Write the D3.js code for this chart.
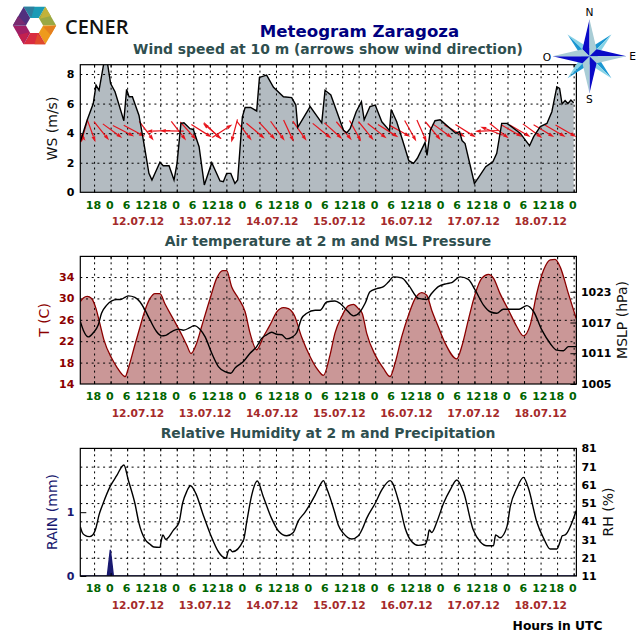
<!DOCTYPE html>
<html><head><meta charset="utf-8">
<script src="https://d3js.org/d3.v7.min.js"></script>
<style>html,body{margin:0;padding:0;background:#fff}svg{display:block}text{font-family:"DejaVu Sans",sans-serif}</style>
</head><body><svg id="c" width="640" height="640"></svg>
<script>
const windHours=[13,15.5,17.7,18.7,19.8,21.6,22.8,24,25.6,28.8,29.8,30.7,31.9,34.3,36.1,37.9,39,41.9,43.1,45.2,47,48.1,49.5,50.6,52.8,54,56.1,58,60.7,63.7,64.9,66.1,67.6,69.1,70.1,71.8,72.8,74.8,77,78,80.6,83.1,86.7,89.7,91.2,91.9,96.4,100.6,101.8,103.9,108.5,109.7,110.9,113.1,115,116,118.1,120,122.4,125.2,125.8,127.8,129.9,132.2,133.9,135.3,138.1,138.8,140,141.7,143.6,149.2,150.6,151.5,152.6,156,157.7,160.1,162.7,164.1,165.9,167.8,172.6,176,177.5,179.9,182.3,184.1,185.9,186.9,187.8,188.9,189.9,191,192];
const windSpeed=[3.42,4.89,6,7.25,6.9,8.8,8.8,7.36,6.8,4.84,6.96,6.46,6.46,5.2,3.3,1.28,.83,2.03,1.8,1.8,.83,1.96,4.66,4.7,4.3,4.25,3.08,.5,2,.77,.72,1.28,1.28,.6,.83,5.1,5.74,5.74,5.5,7.77,7.93,7.1,6.46,6.4,5.9,4.4,5.8,4.7,6.9,6.58,4.2,4.03,4.3,5.45,6.13,4.9,5.8,5.9,4.77,4.17,5.6,4.77,3.54,2.14,1.96,2.3,3.38,2.5,4.2,4.84,4.9,4,4.1,3.5,3.3,.6,1.06,1.73,2.07,2.63,4.66,4.66,4,3.15,3.76,4.44,4.66,5.45,7.14,7.03,5.97,6.2,6,6.24,6.05];
const arrowHours=[12.3,14.5,17,20.7,24.7,28.7,32.6,37,41.3,46.2,48.7,52.2,57,60.8,61,64.5,68.9,72.5,76.6,80.8,84.6,88.6,92.6,100.7,104.8,108.7,112.8,116.7,120.7,124.7,128.9,132.8,136.9,141,144.4,148.9,152.8,160.5,162.2,165,169.6,172.6,177.1,181.2,185.3,189.2];
const arrowBearing=[144,196,160,141,126,117,118,143,268,271,142,138,122,310,134,57,195,142,130,137,144,155,145,129,132,140,151,141,128,122,119,151,156,140,126,120,122,268,291,128,120,120,126,121,120,120];
const tempHours=[13,14.1,15.5,17.1,18.7,20.1,21.6,24.4,26.2,28.8,29.3,30.4,32.8,34.7,36.1,38.3,40.1,41.9,43.7,46.8,49.8,51.6,53.2,55.2,57,60.1,62.5,64.7,66.1,67.9,70.4,72.8,74.6,77,79.4,81.8,84.3,86.7,88.5,90.6,93.3,96.4,98.8,100,101.2,103.6,105.4,107.8,110.2,112.1,113.9,115.3,116.9,120,123,125.4,127.2,129.6,132.1,134.5,136.9,138.7,140.5,142.9,145.4,149.6,151.4,153.8,156.3,158.7,161.1,162.9,165.3,168.4,171.4,173.8,176.2,178.6,181.1,183.5,185.3,187.1,190.1,192.9];
const tempValues=[29.4,30.1,30.4,30,28.1,25.3,22.2,18.8,17.2,15.5,15.4,16.9,21.3,24.7,27.2,30,30.9,30.9,29,26.1,23.2,21.3,19.7,21.6,24.7,30,33.8,35.2,35.2,32.2,30,27.5,23.5,20.4,22.8,25,27.5,28.3,28.1,26.9,22.8,19.1,16.9,16.1,15.6,19.4,23.5,26.6,28.6,28.9,28.1,27.2,23.5,19.4,16.9,15.4,17.9,22.8,26.9,30,31.1,30.6,27.8,24.7,21.6,18.7,21,26,30.9,33.8,34.5,33.8,30.9,27.8,24.7,23,25,30.9,35.3,37.2,37.3,35.9,30.9,26.3];
const mslpHours=[13,14.1,15.9,17.7,19.5,20.7,22.6,24.4,26.2,27.6,29.2,30.4,32.8,34.7,36.5,38.3,40.7,42.5,44,45.5,48.6,50.4,52.8,54.3,56.4,58.3,60.7,63.1,65.5,67.6,69.1,72.2,74.6,77,78.8,80.6,82.4,84.3,86.1,87.9,89.7,91.5,93.3,95.2,98.2,100,102.4,105.4,107.3,109.7,112.1,114.5,116.3,118.1,120.6,123,124.8,126.6,129.6,132.1,135.7,138.7,140.5,142.9,146,147.8,150.8,153.8,156.3,159.3,161.7,164.1,166.5,168.9,172.2,175,177.5,180.5,183.5,185.9,188.3,190.1,192.9];
const mslpValues=[1017.2,1015.5,1014.2,1015,1016.5,1018.8,1020.4,1021.2,1021.5,1021.5,1021.9,1022.2,1021.9,1021,1019.4,1017.5,1015.2,1014.4,1014.5,1015,1015.7,1015.5,1016,1016.4,1015.7,1014.2,1011,1008.4,1007.4,1007.1,1008.1,1009.4,1011,1012.3,1013.9,1014.6,1015.1,1014.7,1014.6,1013.8,1014.1,1015,1017.8,1018.8,1019.4,1019.4,1021,1021.2,1020.7,1019.4,1018.3,1019.1,1020.7,1023,1023.6,1024,1024.9,1025.9,1025.7,1024.3,1021.7,1021.5,1022.7,1024,1024.6,1024.8,1025.9,1025.4,1023.3,1020.4,1019.1,1018.8,1019.6,1019.6,1019.6,1020.3,1019.1,1015.5,1012.9,1011.6,1011.5,1012.3,1012.3];
const rhHours=[13,13.7,14.7,16.3,17.5,18.7,19.8,21.3,23.8,26.2,28.8,30.4,32.8,34.3,36.5,38.3,39.7,41.9,42.4,43,44,46.8,48.8,50.1,51.6,53,54.9,57.6,60.3,63.1,65.9,66.6,67.3,68.2,72.2,73.4,75.2,77.2,79.4,82.4,84.9,87.9,90.3,92.1,94.5,98.2,100,101.2,102.4,105.4,106.6,108.5,111.5,113.9,115.7,116.9,120,122.4,125.4,128.7,130.9,133.3,135.7,138.1,139,139.6,140.5,142.4,144.8,147.2,149.6,152,155.6,158.1,160.5,162.9,163.7,165.3,167.8,169,171.4,173.8,175.6,178.6,181.1,183.5,185.9,187.1,187.9,188.9,192.9];
const rhValues=[38.1,34.9,33.3,32.6,33.5,37.5,44.5,50.9,60,66,71.9,63.7,50.9,39.9,31.1,28.4,26.9,26.7,30.7,33.5,31.1,36.2,40.4,50.9,57.3,60.5,56.3,44.5,33.5,24.3,20.7,24.3,25.6,24.3,30.7,40.8,55.4,63.1,54.5,42.6,35.7,33.1,34.9,41.2,45.9,55.4,60.9,63.3,59.1,45.4,39,34.4,31.3,33.1,38.1,42.6,50.9,58.2,63.3,50.9,37.1,29.8,27.8,28.4,31.7,36.2,34.9,40.8,50.9,58.2,63.7,57.3,36.2,29.8,27.6,27.6,33.5,32,38.1,49,59.1,65.1,59.1,40.8,31.7,25.8,25.8,29.8,33.1,33.5,46.8];
const rainHours=[13,22.8,23.9,25,193];
const rainValues=[0,0,.41,0,0];
const hourTicks=d3.range(18,193,6);
const dateLabels=["12.07.12","13.07.12","14.07.12","15.07.12","16.07.12","17.07.12","18.07.12"];
const wsTicks=[0,2,4,6,8];
const tempTicks=[14,18,22,26,30,34];
const mslpTicks=[1005,1011,1017,1023];
const rhTicks=[11,21,31,41,51,61,71,81];
const rainTicks=[0,1];
const logoColors=["#1a9bb5","#9aa843","#ee9a1c","#d92c3f","#a01f66","#51307e"];
const logoHalf=["#2f7f9e","#c2b23a","#e57f1e","#e04a2c","#c2204f","#7a2a70"];

const svg=d3.select("#c");
const L=80.3,R=576.4,W=R-L,H=127.6;
const TF=11;
const x=d3.scaleLinear().domain([13,193]).range([0,W]);
const dateX=d3.scalePoint().domain(dateLabels).range([138,540.7]);
const green="#006400",brown="#A52A2A",dred="#8B0000",navy="#191970",slate="#2F4F4F";
const clean=s=>{s.select(".domain").remove();};
const pts=(h,v)=>h.map((d,i)=>[d,v[i]]);
const intFmt=d3.format("d");

function panel(id,top,title,titleY){
  const g=svg.append("g").attr("transform",`translate(${L},${top})`);
  const clipId="clip"+id;
  g.append("clipPath").attr("id",clipId).append("rect").attr("width",W).attr("height",H);
  const grid=g.append("g");
  const body=g.append("g").attr("clip-path",`url(#${clipId})`);
  svg.append("text").attr("x",328).attr("y",titleY).attr("text-anchor","middle").attr("font-size",13.9).attr("font-weight","bold").attr("fill",slate).text(title);
  const gx=grid.append("g").attr("transform",`translate(0,${H})`).call(d3.axisBottom(x).tickValues(hourTicks).tickSize(-H).tickFormat(""));
  clean(gx);styleGrid(gx);
  const lx=g.append("g").attr("transform",`translate(-1.2,${H})`).call(d3.axisBottom(x).tickValues(hourTicks).tickSize(0).tickPadding(6.5).tickFormat(d=>d%24));
  clean(lx);lx.selectAll("text").attr("font-size",TF).attr("font-weight","bold").attr("fill",green).attr("dy","0.9em").style("font-family",'"DejaVu Sans"');
  dateLabels.forEach(d=>svg.append("text").attr("x",dateX(d)).attr("y",top+H+33).attr("text-anchor","middle").attr("font-size",10.67).attr("font-weight","bold").attr("fill",brown).text(d));
  return {g,grid,body,frame(){g.append("rect").attr("width",W).attr("height",H).attr("fill","none").attr("stroke","#000").attr("stroke-width",1.2);
    g.append("g").call(d3.axisTop(x).tickValues(hourTicks).tickSize(-3).tickFormat("")).call(clean).selectAll("line").attr("stroke","#000");
    g.append("g").attr("transform",`translate(0,${H})`).call(d3.axisBottom(x).tickValues(hourTicks).tickSize(-3).tickFormat("")).call(clean).selectAll("line").attr("stroke","#000");}};
}
function styleGrid(s){s.selectAll("line").attr("stroke","#000").attr("stroke-width",1).attr("stroke-dasharray","2,3.7");}
function tickText(s,col){s.selectAll("text").attr("font-size",TF).attr("font-weight","bold").attr("fill",col).style("font-family",'"DejaVu Sans"');}
function yLabel(txt,px,py,col){svg.append("text").attr("transform",`translate(${px},${py}) rotate(-90)`).attr("text-anchor","middle").attr("font-size",14).attr("fill",col).text(txt);}

// wind panel
const p1=panel("a",64.7,"Wind speed at 10 m (arrows show wind direction)",54);
const yW=d3.scaleLinear().domain([0,8.63]).range([H,0]);
const gw=p1.grid.append("g").call(d3.axisLeft(yW).tickValues(wsTicks.slice(1)).tickSize(-W).tickFormat(""));clean(gw);styleGrid(gw);
const wp=pts(windHours,windSpeed);
p1.body.append("path").attr("d",d3.area().x(d=>x(d[0])).y0(H).y1(d=>yW(d[1]))(wp)).attr("fill","#b3bbc1");
p1.g.node().appendChild(p1.grid.node());
const arrowLayer=p1.g.append("g").attr("clip-path","url(#clipa)");
const lineLayer=p1.g.append("g").attr("clip-path","url(#clipa)");
lineLayer.append("path").attr("d",d3.line().x(d=>x(d[0])).y(d=>yW(d[1]))(wp)).attr("fill","none").attr("stroke","#000").attr("stroke-width",1.4);
const arrowLen=24;
arrowHours.forEach((h,i)=>{
  const a=arrowBearing[i]*Math.PI/180,ux=Math.sin(a),uy=-Math.cos(a);
  const cx=x(h),cy=yW(4.15);
  const tx=cx-ux*arrowLen/2,ty=cy-uy*arrowLen/2,hx=cx+ux*arrowLen/2,hy=cy+uy*arrowLen/2;
  const bx=hx-ux*6,by=hy-uy*6;
  arrowLayer.append("line").attr("x1",tx).attr("y1",ty).attr("x2",bx).attr("y2",by).attr("stroke","#e8141c").attr("stroke-width",1.2);
  arrowLayer.append("path").attr("d",d3.line()([[hx,hy],[bx-uy*1.9,by+ux*1.9],[bx+uy*1.9,by-ux*1.9]])+"Z").attr("fill","#e8141c");
});
const aw=p1.g.append("g").call(d3.axisLeft(yW).tickValues(wsTicks).tickSize(0).tickPadding(6).tickFormat(intFmt));clean(aw);tickText(aw,"#000");
p1.frame();
yLabel("WS (m/s)",57,128.5,"#111");

// temperature panel
const p2=panel("b",256.4,"Air temperature at 2 m and MSL Pressure",245.5);
const yT=d3.scaleLinear().domain([14,37.86]).range([H,0]);
const yP=d3.scaleLinear().domain([1005,1029.9]).range([H,0]);
const gt=p2.grid.append("g").call(d3.axisLeft(yT).tickValues(tempTicks.slice(1)).tickSize(-W).tickFormat(""));clean(gt);styleGrid(gt);
const tp=pts(tempHours,tempValues);
p2.body.append("path").attr("d",d3.area().curve(d3.curveMonotoneX).x(d=>x(d[0])).y0(H).y1(d=>yT(d[1]))(tp)).attr("fill","#ca9797");
p2.g.node().appendChild(p2.grid.node());
const l2=p2.g.append("g").attr("clip-path","url(#clipb)");
l2.append("path").attr("d",d3.line().curve(d3.curveMonotoneX).x(d=>x(d[0])).y(d=>yT(d[1]))(tp)).attr("fill","none").attr("stroke",dred).attr("stroke-width",1.3);
l2.append("path").attr("d",d3.line().curve(d3.curveMonotoneX).x(d=>x(d[0])).y(d=>yP(d[1]))(pts(mslpHours,mslpValues))).attr("fill","none").attr("stroke","#000").attr("stroke-width",1.4);
const at=p2.g.append("g").call(d3.axisLeft(yT).tickValues(tempTicks).tickSize(0).tickPadding(6).tickFormat(intFmt));clean(at);tickText(at,dred);
const ap=p2.g.append("g").attr("transform",`translate(${W},0)`).call(d3.axisRight(yP).tickValues(mslpTicks).tickSize(-6).tickPadding(4.5).tickFormat(intFmt));clean(ap);tickText(ap,"#000");ap.selectAll("line").attr("stroke","#000");
ap.selectAll("text").attr("x",4.5);
p2.frame();
yLabel("T (C)",49,320,dred);
yLabel("MSLP (hPa)",627,320,"#111");

// humidity panel
const p3=panel("c",448.4,"Relative Humidity at 2 m and Precipitation",437.5);
const yR=d3.scaleLinear().domain([11,81]).range([H,0]);
const yM=d3.scaleLinear().domain([0,2]).range([H,0]);
const gr=p3.grid.append("g").call(d3.axisLeft(yR).tickValues(rhTicks.slice(1,-1)).tickSize(-W).tickFormat(""));clean(gr);styleGrid(gr);
const rp=pts(rainHours,rainValues);
p3.body.append("path").attr("d",d3.area().x(d=>x(d[0])).y0(H).y1(d=>yM(d[1]))(rp)).attr("fill",navy).attr("stroke",navy).attr("stroke-width",1.4);
p3.body.append("path").attr("d",d3.line().curve(d3.curveMonotoneX).x(d=>x(d[0])).y(d=>yR(d[1]))(pts(rhHours,rhValues))).attr("fill","none").attr("stroke","#000").attr("stroke-width",1.4);
const am=p3.g.append("g").call(d3.axisLeft(yM).tickValues(rainTicks).tickSize(-6).tickPadding(6).tickFormat(intFmt));clean(am);tickText(am,navy);am.selectAll("line").attr("stroke","#000");
am.selectAll("text").attr("x",-6);
const ar=p3.g.append("g").attr("transform",`translate(${W},0)`).call(d3.axisRight(yR).tickValues(rhTicks).tickSize(0).tickPadding(5).tickFormat(intFmt));clean(ar);tickText(ar,"#000");
p3.frame();
yLabel("RAIN (mm)",57,512,navy);
yLabel("RH (%)",613,512,"#111");

// titles
svg.append("text").attr("x",359.5).attr("y",36.5).attr("text-anchor","middle").attr("font-size",16.6).attr("font-weight","bold").attr("fill","#000080").text("Meteogram Zaragoza");
svg.append("text").attr("x",557.5).attr("y",630).attr("text-anchor","middle").attr("font-size",12.3).attr("font-weight","bold").attr("fill","#000").text("Hours in UTC");

// logo
const lg=svg.append("g").attr("transform","translate(34.5,25.5)");
const hexA=d3.range(6).map(i=>(-120+i*60)*Math.PI/180);
logoColors.forEach((c,i)=>{
  const a0=hexA[i],a1=a0+Math.PI/3,am2=(a0+a1)/2,Ro=21.7,Ri=8.6;
  const Q=(a,r)=>[Math.cos(a)*r,Math.sin(a)*r];
  lg.append("path").attr("d",d3.line()([Q(a0,Ro),Q(a1,Ro),Q(a1,Ri),Q(a0,Ri)])+"Z").attr("fill",c);
  lg.append("path").attr("d",d3.line()([Q(a0,Ro),Q(am2,Ro*.866),Q(a0+.15,Ri)])+"Z").attr("fill",logoHalf[i]);
});
svg.append("text").attr("x",65).attr("y",33.5).attr("font-size",20).attr("font-weight",600).style("font-family",'"Open Sans"').attr("fill","#111").text("CENER");

// compass rose
const cp=svg.append("g").attr("transform","translate(589.5,56.3)");
const P=(deg,r)=>{const a=deg*Math.PI/180;return [Math.sin(a)*r,-Math.cos(a)*r];};
[45,135,225,315].forEach(d=>{
  cp.append("path").attr("d",d3.line()([[0,0],P(d,31),P(d-45,8)])+"Z").attr("fill","#1b97d2");
  cp.append("path").attr("d",d3.line()([[0,0],P(d,31),P(d+45,8)])+"Z").attr("fill","#86d3e6");
});
[0,90,180,270].forEach(d=>{
  cp.append("path").attr("d",d3.line()([[0,0],P(d,37),P(d-45,10)])+"Z").attr("fill","#0a0ac8");
  cp.append("path").attr("d",d3.line()([[0,0],P(d,37),P(d+45,10)])+"Z").attr("fill","#a9cdd6");
});
[["N",589.5,16],["E",632.5,60],["S",589.5,103],["O",547,60.5]].forEach(t=>svg.append("text").attr("x",t[1]).attr("y",t[2]).attr("text-anchor","middle").attr("font-size",10.67).attr("fill","#000").text(t[0]));
</script></body></html>
